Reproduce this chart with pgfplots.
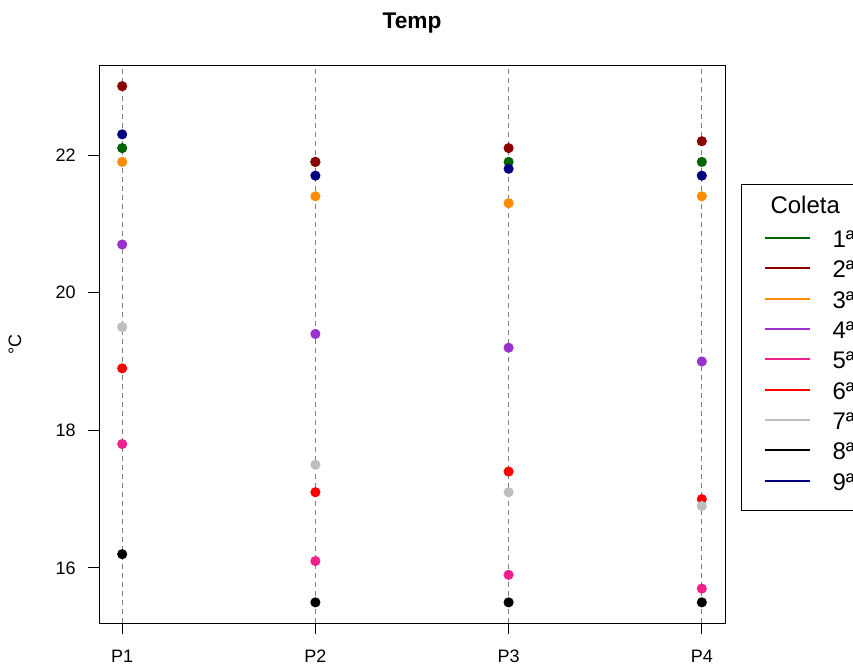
\documentclass[border=0pt]{standalone}
\usepackage{fontspec}
\setmainfont{Liberation Sans}
\usepackage{pgfplots}
\pgfplotsset{compat=1.18}
\definecolor{c1}{HTML}{006400}
\definecolor{c2}{HTML}{8B0000}
\definecolor{c3}{HTML}{FF8C00}
\definecolor{c4}{HTML}{9932CC}
\definecolor{c5}{HTML}{F0208C}
\definecolor{c6}{HTML}{FF0000}
\definecolor{c7}{HTML}{BEBEBE}
\definecolor{c8}{HTML}{000000}
\definecolor{c9}{HTML}{000080}
\pgfplotsset{dot/.style={only marks, mark=*, mark size=3.4pt, forget plot, color=#1, mark options={draw=#1, fill=#1, line width=0.75pt}}}
\begin{document}
\begin{tikzpicture}
\useasboundingbox (0,0) rectangle (639.75pt,501pt);
\begin{axis}[
  at={(74.25pt,33.75pt)}, anchor=south west,
  scale only axis, width=469.5pt, height=418.1pt,
  xmin=0.88, xmax=4.12, ymin=15.2, ymax=23.3,
  xtick={1,2,3,4}, xticklabels={P1,P2,P3,P4},
  ytick={16,18,20,22},
  tick align=outside, major tick length=8.25pt,
  tick style={black, line width=0.75pt},
  axis line style={line width=0.75pt},
  xtick pos=bottom, ytick pos=left,
  xmajorgrids,
  x grid style={gray, dash pattern=on 3.75pt off 3pt, line width=0.75pt},
  /pgf/number format/assume math mode=true,
  ticklabel style={font=\fontsize{13.5}{16}\selectfont, inner sep=0pt},
  yticklabel style={anchor=east, xshift=-9pt},
  xticklabel style={anchor=north, yshift=-12pt},
  ylabel={°C},
  ylabel style={font=\fontsize{13.5}{16}\selectfont, at={(axis description cs:-0.1342,0.5)}, anchor=center, rotate=0},
  title={\bfseries Temp},
  title style={font=\fontsize{17}{20}\selectfont, at={(axis description cs:0.5,1.0798)}, anchor=center, yshift=-7.5pt},
  legend image code/.code={\draw[#1, line width=1.5pt] (0pt,2.75pt) -- (33.75pt,2.75pt);},
  legend cell align=left,
  legend style={at={(1.0256,0.7874)}, anchor=north west, draw=black, line width=0.75pt,
    font=\fontsize{18}{21}\selectfont, inner xsep=16.5pt, inner ysep=11.5pt,
    row sep=5.75pt, column sep=16.5pt,
    nodes={inner sep=0pt, text height=13pt, text depth=4pt}},
]
\addplot[dot=c1] coordinates {(1,22.1) (2,21.9) (3,21.9) (4,21.9)};
\addplot[dot=c2] coordinates {(1,23.0) (2,21.9) (3,22.1) (4,22.2)};
\addplot[dot=c3] coordinates {(1,21.9) (2,21.4) (3,21.3) (4,21.4)};
\addplot[dot=c4] coordinates {(1,20.7) (2,19.4) (3,19.2) (4,19.0)};
\addplot[dot=c5] coordinates {(1,17.8) (2,16.1) (3,15.9) (4,15.7)};
\addplot[dot=c6] coordinates {(1,18.9) (2,17.1) (3,17.4) (4,17.0)};
\addplot[dot=c7] coordinates {(1,19.5) (2,17.5) (3,17.1) (4,16.9)};
\addplot[dot=c8] coordinates {(1,16.2) (2,15.5) (3,15.5) (4,15.5)};
\addplot[dot=c9] coordinates {(1,22.3) (2,21.7) (3,21.8) (4,21.7)};
\addlegendimage{empty legend}\addlegendentry{\hspace*{-46.5pt}\raisebox{3pt}{Coleta}}
\addlegendimage{c1}\addlegendentry{1ª}
\addlegendimage{c2}\addlegendentry{2ª}
\addlegendimage{c3}\addlegendentry{3ª}
\addlegendimage{c4}\addlegendentry{4ª}
\addlegendimage{c5}\addlegendentry{5ª}
\addlegendimage{c6}\addlegendentry{6ª}
\addlegendimage{c7}\addlegendentry{7ª}
\addlegendimage{c8}\addlegendentry{8ª}
\addlegendimage{c9}\addlegendentry{9ª}
\end{axis}
\end{tikzpicture}
\end{document}
